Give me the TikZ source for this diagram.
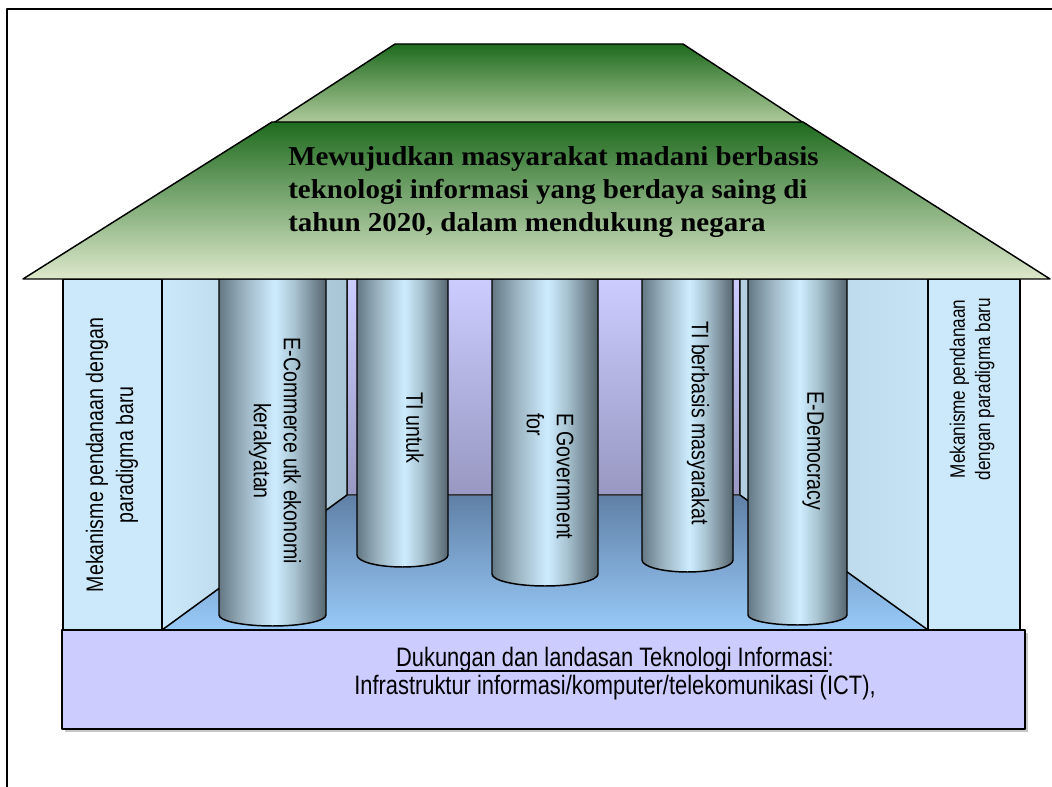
\documentclass[tikz,border=0pt]{standalone}
\usepackage{fontspec}
\setmainfont{Liberation Sans}
\newfontfamily\narrowsans[FakeStretch=0.82]{Liberation Sans}
\newfontfamily\roofserif[FakeStretch=1.06]{Liberation Serif}
\definecolor{pA}{HTML}{647884}
\definecolor{pB}{HTML}{9DB5C3}
\definecolor{pC}{HTML}{CDEDFF}
\definecolor{pD}{HTML}{A9C4D2}
\definecolor{pE}{HTML}{56666F}
\definecolor{greenT}{HTML}{1F6B1F}
\definecolor{greenM}{HTML}{9CBB75}
\definecolor{greenB}{HTML}{DDE8CB}
\definecolor{greenUB}{HTML}{C9DBB1}
\definecolor{greenUM}{HTML}{8DAF68}
\definecolor{wallT}{HTML}{CCCCFF}
\definecolor{wallB}{HTML}{9898C2}
\definecolor{floorT}{HTML}{6080A6}
\definecolor{floorB}{HTML}{98CAF8}
\definecolor{lsL}{HTML}{CBE8FA}
\definecolor{lsR}{HTML}{A8C5D5}
\definecolor{rsL}{HTML}{B4CFDF}
\definecolor{rsR}{HTML}{C6E4F6}
\definecolor{panelc}{HTML}{CCE9FB}
\definecolor{basec}{HTML}{CCCCFF}
\pgfdeclarehorizontalshading{pillarshade}{100bp}{color(0bp)=(pA); color(25bp)=(pA); color(37bp)=(pB); color(51bp)=(pC); color(60bp)=(pD); color(75bp)=(pE); color(100bp)=(pE)}
\newcommand{\pillar}[4]{%
  \shadedraw[edge, shading=pillarshade] (#1,508) -- (#1,#3)
    .. controls (#1,{#3-0.552*#4}) and ({(#1+#2)/2-0.276*(#2-#1)},{#3-#4}) .. ({(#1+#2)/2},{#3-#4})
    .. controls ({(#1+#2)/2+0.276*(#2-#1)},{#3-#4}) and (#2,{#3-0.552*#4}) .. (#2,#3)
    -- (#2,508) -- cycle;}
\newcommand{\ulbase}[1]{\setbox0=\hbox{#1}\rlap{\rule[-3.6pt]{\wd0}{1.1pt}}\box0}
\tikzset{
  edge/.style={draw=black, line width=1.1pt},
  thinedge/.style={draw=black!80, line width=0.8pt},
  rooftxt/.style={font=\roofserif\bfseries\fontsize{20.5}{24}\selectfont, inner sep=0pt, anchor=base west},
  pillartxt/.style={font=\narrowsans\fontsize{17.9}{22.5}\selectfont, align=center, inner sep=0pt},
  sidetxt/.style={font=\narrowsans\fontsize{15.7}{19}\selectfont, align=center, inner sep=0pt},
  basetxt/.style={font=\narrowsans\fontsize{20}{24}\selectfont, inner sep=0pt, anchor=base}
}
\begin{document}
\begin{tikzpicture}[x=0.75pt, y=0.75pt, line join=round]
\useasboundingbox (0,0) rectangle (1052,787);
\clip (0,0) rectangle (1052,787);
\fill[white] (0,0) rectangle (1052,787);
% outer frame
\draw[line width=1.5pt] (7,-20) rectangle (1080,778);
% back wall and floor
\shadedraw[thinedge, top color=wallT, bottom color=wallB] (347,508) rectangle (740,292);
\shadedraw[thinedge, top color=floorT, bottom color=floorB] (162,157) -- (347,292) -- (740,292) -- (928,157) -- cycle;
% side walls
\shadedraw[edge, left color=lsL, right color=lsR] (162,508) -- (347,508) -- (347,292) -- (162,157) -- cycle;
\shadedraw[edge, left color=rsL, right color=rsR] (740,508) -- (928,508) -- (928,157) -- (740,292) -- cycle;
% back pillars
\pillar{357}{448}{232}{12}
\pillar{492}{598}{213}{12}
\pillar{642}{733}{227}{12}
% front pillars
\pillar{219}{326}{172}{11}
\pillar{748}{847}{172}{10}
% side panels
\draw[edge, fill=panelc] (63,157) rectangle (162,508);
\draw[edge, fill=panelc] (928,157) rectangle (1020,508);
% base
\fill[black!22] (65,55) rectangle (1028,154);
\draw[edge, fill=basec] (62,58) rectangle (1025,157);
% roof
\shadedraw[edge, top color=greenT, middle color=greenUM, bottom color=greenUB] (395,743) -- (683,743) -- (825,650) -- (252,650) -- cycle;
\shadedraw[edge, top color=greenT, middle color=greenM, bottom color=greenB] (272,665) -- (803,665) -- (1050,508) -- (23,508) -- cycle;
% texts
\node[rooftxt] (r1) at (288,621) {Mewujudkan masyarakat madani berbasis};
\node[rooftxt] (r2) at (288,588) {teknologi informasi yang berdaya saing di};
\node[rooftxt] (r3) at (288,555) {tahun 2020, dalam mendukung negara};
\node[pillartxt, rotate=-90] (t1) at (275,336) {E-Commerce utk ekonomi\\kerakyatan};
\node[pillartxt, rotate=-90] (t2) at (415,359) {TI untuk};
\node[pillartxt, rotate=-90, align=left, anchor=west] (t3) at (550,374) {E Government\\for};
\node[pillartxt, rotate=-90] (t4) at (698,364) {TI berbasis masyarakat};
\node[pillartxt, rotate=-90] (t5) at (813,336) {E-Democracy};
\node[pillartxt, rotate=90] (lp) at (112,332) {Mekanisme pendanaan dengan\\paradigma baru};
\node[sidetxt, rotate=90] (rp) at (972,398) {Mekanisme pendanaan\\dengan paradigma baru};
\node[basetxt] (b1) at (615,120) {\ulbase{Dukungan dan landasan Teknologi Informasi}:};
\node[basetxt] (b2) at (615,92) {Infrastruktur informasi/komputer/telekomunikasi (ICT),};
\end{tikzpicture}
\end{document}
